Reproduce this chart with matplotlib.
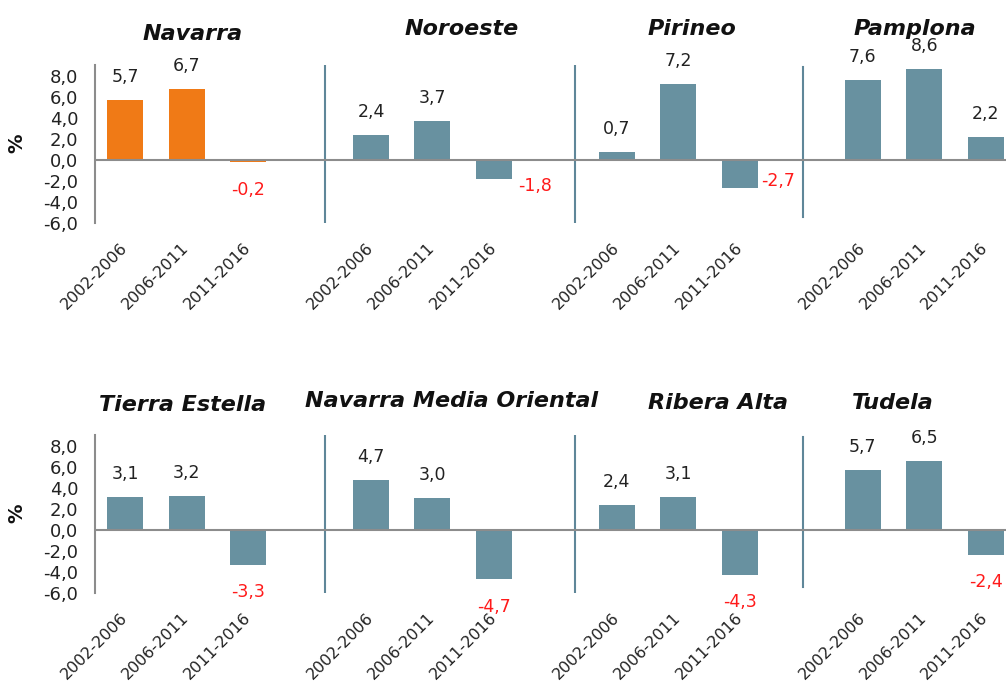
import matplotlib
matplotlib.use("Agg")
import matplotlib.pyplot as plt
from matplotlib.ticker import FuncFormatter

# ---------------- data ----------------
periods = ["2002-2006", "2006-2011", "2011-2016"]
regions_top = ["Navarra", "Noroeste", "Pirineo", "Pamplona"]
regions_bottom = ["Tierra Estella", "Navarra Media Oriental", "Ribera Alta", "Tudela"]

navarra = [5.7, 6.7, -0.2]
noroeste = [2.4, 3.7, -1.8]
pirineo = [0.7, 7.2, -2.7]
pamplona = [7.6, 8.6, 2.2]
tierra_estella = [3.1, 3.2, -3.3]
navarra_media_oriental = [4.7, 3.0, -4.7]
ribera_alta = [2.4, 3.1, -4.3]
tudela = [5.7, 6.5, -2.4]

yticks = [-6, -4, -2, 0, 2, 4, 6, 8]

# ---------------- style / layout ----------------
W, H = 1006, 681
BLUE = "#6891a0"
ORANGE = "#f07a16"
SEP = "#5f8799"
GREY = "#8c8c8c"
RED = "#ff1a1a"
FONT = "DejaVu Sans"

fig = plt.figure(figsize=(W / 100, H / 100), dpi=100)

def px_axes(left, top, right, bottom):
    return fig.add_axes([left / W, 1 - bottom / H, (right - left) / W, (bottom - top) / H])

rows = [
    dict(regions=regions_top, values=[navarra, noroeste, pirineo, pamplona],
         colors=[ORANGE, BLUE, BLUE, BLUE], top=65, bottom=223,
         title_px=[(193, 40), (462, 35), (692, 35), (915, 35)],
         neg_offsets=[(0, -28), (41, -7), (38, 7), (0, -27)]),
    dict(regions=regions_bottom,
         values=[tierra_estella, navarra_media_oriental, ribera_alta, tudela],
         colors=[BLUE, BLUE, BLUE, BLUE], top=435, bottom=593,
         title_px=[(183, 411), (452, 407), (718, 409), (893, 409)],
         neg_offsets=[(0, -27), (0, -28), (0, -27), (0, -27)]),
]
sep_x = [3.25, 7.32, 11.02]
group_step = 4
bar_w = 0.585

for row in rows:
    ax = px_axes(95, row["top"], 1006, row["bottom"])
    xs, labels = [], []
    for g, (name, vals, col) in enumerate(zip(row["regions"], row["values"], row["colors"])):
        pos = [g * group_step + i for i in range(len(periods))]
        bars = ax.bar(pos, vals, width=bar_w, color=col, zorder=2)
        for b, v in zip(bars, vals):
            x = b.get_x() + b.get_width() / 2
            txt = f"{v:.1f}".replace(".", ",")
            if v >= 0:
                ax.annotate(txt, (x, v), xytext=(0, 23), textcoords="offset pixels",
                            ha="center", va="center", fontsize=12.5, color="#222222",
                            family=FONT)
            else:
                dx, dy = row["neg_offsets"][g]
                ax.annotate(txt, (x, v), xytext=(dx, dy), textcoords="offset pixels",
                            ha="center", va="center", fontsize=12.5, color=RED,
                            family=FONT)
        xs += pos
        labels += periods
        fx, fy = row["title_px"][g]
        fig.text(fx / W, 1 - fy / H, name, ha="center", va="baseline",
                 fontsize=16, fontweight="bold", fontstyle="italic", family=FONT,
                 color="#111111")

    ax.set_xlim(-0.49, 14.33)
    ax.set_ylim(-6, 9)
    ax.axhline(0, color=GREY, lw=1.5, zorder=3)
    for i, sx in enumerate(sep_x):
        if i == 2:
            ax.axvline(sx, ymin=0.04, ymax=0.987, color=SEP, lw=1.5, zorder=1)
        else:
            ax.axvline(sx, color=SEP, lw=1.5, zorder=1)
    for s in ["top", "right", "bottom"]:
        ax.spines[s].set_visible(False)
    ax.spines["left"].set_color(GREY)
    ax.spines["left"].set_linewidth(1.5)

    ax.set_yticks(yticks)
    ax.yaxis.set_major_formatter(FuncFormatter(lambda v, p: f"{v:.1f}".replace(".", ",")))
    ax.tick_params(axis="y", length=0, pad=12, labelsize=13, labelcolor="#222222")
    ax.set_xticks(xs)
    ax.set_xticklabels(labels, rotation=45, ha="right", va="center",
                       rotation_mode="anchor", fontsize=11.5, color="#222222")
    ax.tick_params(axis="x", length=0, pad=16)
    for lab in ax.get_xticklabels():
        lab.set_family(FONT)
    for lab in ax.get_yticklabels():
        lab.set_family(FONT)
    ax.patch.set_visible(False)

    cy = (row["top"] + row["bottom"]) / 2 - 1
    fig.text(17 / W, 1 - cy / H, "%", rotation=90, ha="center", va="center",
             fontsize=14, fontweight="bold", family=FONT, color="#111111")

fig.savefig("out.png", dpi=100)
